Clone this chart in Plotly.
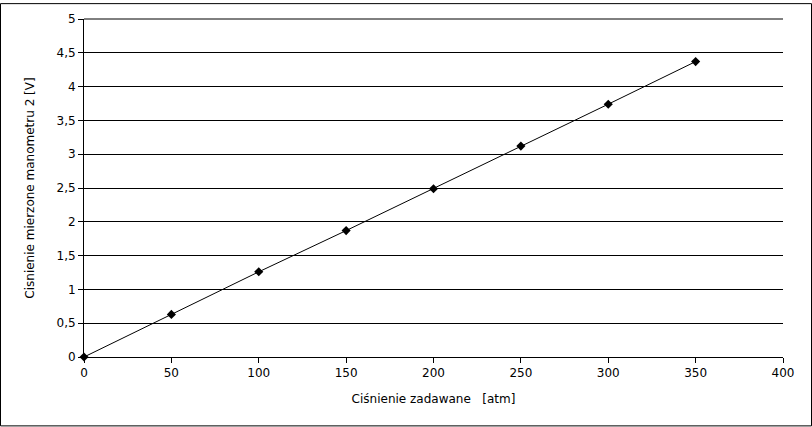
import plotly.graph_objects as go

pressure_set = [0, 50, 100, 150, 200, 250, 300, 350]
voltage_measured = [0.0, 0.63, 1.26, 1.87, 2.49, 3.12, 3.74, 4.37]

W, H = 812, 427
ml, mr, mt, mb = 84, 29, 16, 70
pw, ph = W - ml - mr, H - mt - mb

fig = go.Figure()
fig.add_trace(go.Scatter(
    x=pressure_set, y=voltage_measured, mode="lines+markers",
    line=dict(color="black", width=1),
    marker=dict(symbol="diamond", size=7, color="black"),
    showlegend=False, cliponaxis=False,
))

font = dict(family="DejaVu Sans", size=12, color="black")
fig.update_layout(
    width=W, height=H,
    margin=dict(l=ml, r=mr, t=mt, b=mb, pad=0),
    paper_bgcolor="white", plot_bgcolor="white",
    font=font, separators=", ",
    xaxis=dict(
        range=[0, 400], dtick=50, tick0=0, showgrid=False,
        showline=True, linecolor="black", linewidth=1,
        ticks="outside", ticklen=5, tickcolor="black", zeroline=False,
        title=dict(text="Ciśnienie zadawane\u00a0\u00a0\u00a0[atm]", font=dict(size=12), standoff=15),
    ),
    yaxis=dict(
        range=[0, 5], dtick=0.5, tick0=0, showgrid=True, gridcolor="black", gridwidth=1,
        showline=True, linecolor="black", linewidth=1,
        ticks="outside", ticklen=5, tickcolor="black", zeroline=False,
        title=dict(text="Cisnienie mierzone manometru 2 [V]", font=dict(size=12), standoff=19),
    ),
    shapes=[
        dict(
            type="rect", xref="paper", yref="paper",
            x0=(0.5 - ml) / pw, x1=(W - 0.5 - ml) / pw,
            y0=(H - mb - (H - 0.5)) / ph, y1=(H - mb - 0.5) / ph,
            line=dict(color="black", width=1), fillcolor="rgba(0,0,0,0)", layer="above",
        ),
        dict(
            type="line", xref="paper", yref="paper", x0=0, x1=1, y0=1, y1=1,
            line=dict(color="black", width=1), layer="below",
        ),
    ],
)

fig.write_html(
    "out.html",
    config={"displayModeBar": False},
    post_script="document.body.style.margin='0';document.body.style.overflow='hidden';",
)
